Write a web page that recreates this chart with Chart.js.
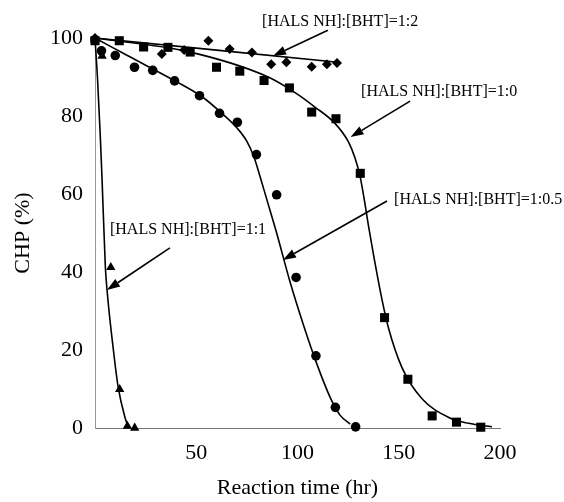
<!DOCTYPE html>
<html>
<head>
<meta charset="utf-8">
<script src="https://cdn.jsdelivr.net/npm/chart.js@4"></script>
<style>
  body { margin: 0; background: #fff; }
  #wrap { width: 564px; height: 502px; }
</style>
</head>
<body>
<div id="wrap"><canvas id="myChart" width="564" height="502"></canvas></div>
<script>
const ratio10X = [0, 12, 24, 36, 47, 60, 71.5, 83.5, 96, 107, 119, 131, 143, 154.5, 166.5, 178.5, 190.5];
const ratio10Y = [99.3, 99.3, 97.7, 97.6, 96.4, 92.5, 91.5, 89.1, 87.2, 81, 79.3, 65.3, 28.3, 12.5, 3.1, 1.5, 0.2];

const ratio12X = [0, 33, 44, 56, 66.5, 77.5, 87, 94.5, 107, 114.5, 119.5];
const ratio12Y = [100, 95.9, 96.9, 99.3, 97.2, 96.3, 93.3, 93.8, 92.6, 93.3, 93.6];

const ratio105X = [0, 3.2, 10, 19.5, 28.5, 39.3, 51.6, 61.5, 70.3, 79.7, 89.7, 99.3, 109.1, 118.7, 128.7];
const ratio105Y = [99.5, 96.7, 95.5, 92.5, 91.7, 89, 85.2, 80.7, 78.4, 70.1, 59.8, 38.6, 18.5, 5.3, 0.3];

const ratio11X = [0, 3.5, 7.8, 12.2, 16, 19.6];
const ratio11Y = [99.5, 95.4, 41.2, 9.9, 0.5, 0];

// fitted curves
const fit10X = [0, 46, 85.5, 98.8, 108.6, 118.5, 125.1, 128.4, 130.9, 133, 135, 137.5, 141.7, 145, 151.6, 161.5, 174.7, 184.5, 196];
const fit10Y = [100, 96.5, 90, 86, 82.3, 78.1, 73.4, 69.2, 64.5, 58.5, 52, 44.5, 33, 25.5, 15.5, 7.5, 2.7, 1.2, 0.3];

const fit12X = [0, 120];
const fit12Y = [100, 93.8];

const fit105X = [0, 16, 39.5, 52.7, 62, 70, 75, 78.5, 81.5, 84.5, 89.7, 96.3, 102.9, 109.5, 116, 121, 126];
const fit105Y = [100, 95.5, 89, 85, 81, 77, 73.5, 69.5, 64.5, 59.2, 50, 37.5, 26.5, 16.5, 8, 3.3, 1];

const fit11X = [0, 1.2, 2.6, 3.5, 5.1, 6.1, 8.9, 11.4, 14.7, 16.6];
const fit11Y = [100, 90, 75, 63.6, 41.4, 34.5, 20.8, 10.6, 2.9, 0];

const xTicks = [50, 100, 150, 200];
const yTicks = [0, 20, 40, 60, 80, 100];

function pts(xs, ys) {
  return xs.map((x, i) => ({ x: x, y: ys[i] }));
}

function marks(xs, ys, style, r) {
  return {
    data: pts(xs, ys),
    showLine: false,
    pointStyle: style,
    pointRadius: r,
    pointHoverRadius: r,
    backgroundColor: "#000",
    borderColor: "#000",
    borderWidth: 0,
    clip: false,
  };
}

function curve(xs, ys) {
  return {
    data: pts(xs, ys),
    showLine: true,
    pointRadius: 0,
    borderColor: "#000",
    borderWidth: 1.6,
    cubicInterpolationMode: "monotone",
    clip: false,
  };
}

// labels with arrows, in data units
const notes = [
  { text: "[HALS NH]:[BHT]=1:2", x: 82.5, y: 104.1, from: [115, 102], to: [87.9, 95.4] },
  { text: "[HALS NH]:[BHT]=1:0", x: 131.4, y: 86.2, from: [155.6, 83.8], to: [126.2, 74.6] },
  { text: "[HALS NH]:[BHT]=1:0.5", x: 147.7, y: 58.5, from: [144.2, 58.2], to: [92.8, 43.1] },
  { text: "[HALS NH]:[BHT]=1:1", x: 7.4, y: 50.8, from: [37, 46.2], to: [5.9, 35.4] },
];

const notePlugin = {
  id: "notes",
  afterDatasetsDraw(chart) {
    const ctx = chart.ctx;
    const xs = chart.scales.x;
    const ys = chart.scales.y;
    ctx.save();
    ctx.fillStyle = "#000";
    ctx.strokeStyle = "#000";
    ctx.font = "16px 'Liberation Serif'";
    ctx.textBaseline = "middle";
    ctx.textAlign = "left";
    notes.forEach((n) => {
      ctx.fillText(n.text, xs.getPixelForValue(n.x), ys.getPixelForValue(n.y));
      const x1 = xs.getPixelForValue(n.from[0]);
      const y1 = ys.getPixelForValue(n.from[1]);
      const x2 = xs.getPixelForValue(n.to[0]);
      const y2 = ys.getPixelForValue(n.to[1]);
      const a = Math.atan2(y2 - y1, x2 - x1);
      const len = 13;
      const bx = x2 - Math.cos(a) * len;
      const by = y2 - Math.sin(a) * len;
      ctx.lineWidth = 1.6;
      ctx.beginPath();
      ctx.moveTo(x1, y1);
      ctx.lineTo(bx, by);
      ctx.stroke();
      ctx.beginPath();
      ctx.moveTo(x2, y2);
      ctx.lineTo(bx + Math.sin(a) * 4.5, by - Math.cos(a) * 4.5);
      ctx.lineTo(bx - Math.sin(a) * 4.5, by + Math.cos(a) * 4.5);
      ctx.closePath();
      ctx.fill();
    });
    ctx.restore();
  },
};

const ctx = document.getElementById("myChart");

new Chart(ctx, {
  type: "scatter",
  data: {
    datasets: [
      curve(fit12X, fit12Y),
      curve(fit10X, fit10Y),
      curve(fit105X, fit105Y),
      curve(fit11X, fit11Y),
      marks(ratio12X, ratio12Y, "rectRot", 5),
      marks(ratio10X, ratio10Y, "rect", 6.4),
      marks(ratio105X, ratio105Y, "circle", 4.8),
      marks(ratio11X, ratio11Y, "triangle", 5.4),
    ],
  },
  options: {
    responsive: false,
    animation: false,
    layout: { padding: { top: 38, right: 64, left: 0, bottom: 0 } },
    plugins: {
      legend: { display: false },
      tooltip: { enabled: false },
    },
    scales: {
      x: {
        type: "linear",
        min: 0,
        max: 200,
        afterBuildTicks: (s) => {
          s.ticks = xTicks.map((v) => ({ value: v }));
        },
        grid: { display: false, drawTicks: false },
        border: { display: true, color: "#777", width: 1 },
        ticks: {
          color: "#000",
          padding: 12,
          font: { family: "'Liberation Serif'", size: 22 },
        },
        title: {
          display: true,
          text: "Reaction time (hr)",
          color: "#000",
          font: { family: "'Liberation Serif'", size: 22 },
          padding: { top: 0, bottom: 1 },
        },
        afterFit: (s) => {
          s.height = 74;
        },
      },
      y: {
        type: "linear",
        min: 0,
        max: 100,
        afterBuildTicks: (s) => {
          s.ticks = yTicks.map((v) => ({ value: v }));
        },
        grid: { display: false, drawTicks: false },
        border: { display: true, color: "#999", width: 1 },
        ticks: {
          color: "#000",
          padding: 12,
          font: { family: "'Liberation Serif'", size: 22 },
        },
        title: {
          display: true,
          text: "CHP (%)",
          color: "#000",
          font: { family: "'Liberation Serif'", size: 22 },
          padding: { top: 10, bottom: 0 },
        },
        afterFit: (s) => {
          s.width = 95;
        },
      },
    },
  },
  plugins: [notePlugin],
});
</script>
</body>
</html>
